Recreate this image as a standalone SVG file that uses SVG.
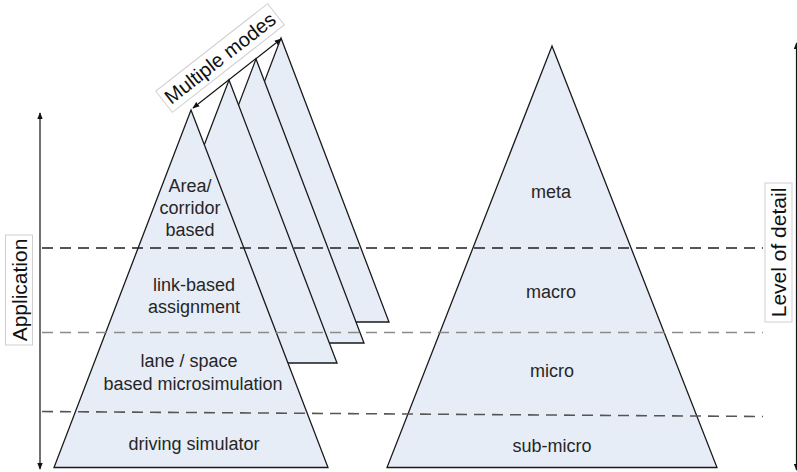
<svg xmlns="http://www.w3.org/2000/svg" width="797" height="472" viewBox="0 0 797 472">
<defs>
<style>
.tri{fill:#e7edf7;stroke:#1a1a1a;stroke-width:1.3;stroke-linejoin:miter}
.lbl{font-family:"Liberation Sans",Arial,sans-serif;font-size:18px;fill:#262626;text-anchor:middle}
.side{font-family:"Liberation Sans",Arial,sans-serif;font-size:21px;fill:#111;text-anchor:middle}
.box{fill:#fff;stroke:#cfcfcf;stroke-width:1}
.dash{fill:none;stroke-width:1.6;stroke-dasharray:11 7}
.arr{fill:none;stroke:#111;stroke-width:1.2}
</style>
<marker id="ah" viewBox="0 0 10 10" refX="9" refY="5" markerWidth="7" markerHeight="7" orient="auto-start-reverse" markerUnits="userSpaceOnUse">
<path d="M0,1 L10,5 L0,9 Z" fill="#111"/>
</marker>
</defs>
<rect width="797" height="472" fill="#fff"/>

<g id="modes-stack">
<polygon class="tri" points="281,38 389,322 173,322"/>
<polygon class="tri" points="256,59 364,343 148,343"/>
<polygon class="tri" points="229,80 337,363 121,363"/>
</g>

<g id="left-pyramid">
<polygon class="tri" points="191,110 328,467.5 54,467.5"/>
<text class="lbl" x="190" y="192">Area/</text>
<text class="lbl" x="190" y="214">corridor</text>
<text class="lbl" x="190" y="236">based</text>
<text class="lbl" x="194" y="291">link-based</text>
<text class="lbl" x="194" y="313">assignment</text>
<text class="lbl" x="189" y="367">lane / space</text>
<text class="lbl" x="193" y="390">based microsimulation</text>
<text class="lbl" x="194" y="450">driving simulator</text>
</g>

<g id="right-pyramid">
<polygon class="tri" points="552,46 717,467.5 387,467.5"/>
<text class="lbl" x="551" y="198">meta</text>
<text class="lbl" x="551" y="298">macro</text>
<text class="lbl" x="552" y="377">micro</text>
<text class="lbl" x="552" y="452">sub-micro</text>
</g>

<g id="connectors">
<line class="dash" x1="42" y1="248" x2="763" y2="248" stroke="#1e1e1e"/>
<line class="dash" x1="42" y1="332.5" x2="763" y2="332.5" stroke="#8a8a8a"/>
<line class="dash" x1="42" y1="411.5" x2="763" y2="416.5" stroke="#555"/>
<line class="arr" x1="40" y1="113" x2="40" y2="469" marker-start="url(#ah)" marker-end="url(#ah)"/>
<line class="arr" x1="796.5" y1="43" x2="796.5" y2="470" marker-start="url(#ah)" marker-end="url(#ah)"/>
<line class="arr" x1="193" y1="108" x2="281" y2="39" marker-start="url(#ah)" marker-end="url(#ah)"/>
</g>

<g id="label-application">
<g transform="translate(19,290) rotate(-90)">
<rect class="box" x="-55" y="-13.5" width="110" height="27"/>
<text class="side" x="0" y="7.5">Application</text>
</g>
</g>

<g id="label-level">
<g transform="translate(778.5,252.5) rotate(-90)">
<rect class="box" x="-69.5" y="-13.5" width="139" height="27"/>
<text class="side" x="0" y="7.5">Level of detail</text>
</g>
</g>

<g id="label-modes">
<g transform="translate(220,58) rotate(-38)">
<rect class="box" x="-71" y="-13.5" width="142" height="27"/>
<text class="side" x="0" y="7" style="font-size:20px">Multiple modes</text>
</g>
</g>
</svg>
